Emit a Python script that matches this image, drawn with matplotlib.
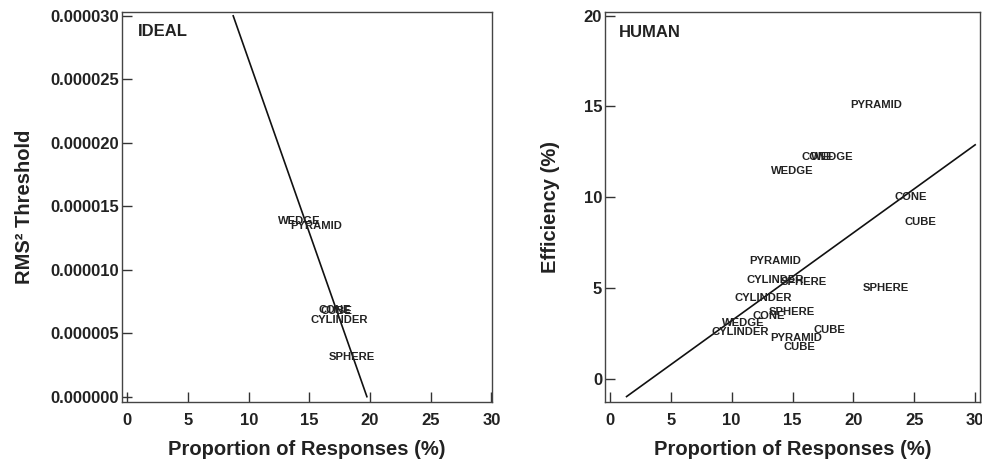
import matplotlib
matplotlib.use("Agg")
import matplotlib.pyplot as plt
from matplotlib.ticker import FormatStrFormatter

plt.rcParams['font.family'] = ['Liberation Sans', 'DejaVu Sans']
plt.rcParams['font.weight'] = 'bold'

# IDEAL panel : seuil RMS^2 contre proportion de reponses
ideal_labels = ['WEDGE', 'PYRAMID', 'CONE', 'CUBE', 'CYLINDER', 'SPHERE']
ideal_x = [14.15, 15.55, 17.1, 17.2, 17.5, 18.5]
ideal_y = [13.85e-6, 13.43e-6, 6.86e-6, 6.75e-6, 6.04e-6, 3.13e-6]
ideal_fit_x = [8.72, 19.74]
ideal_fit_y = [30e-6, 0.0]

# HUMAN panel : efficacite contre proportion de reponses
human_labels = ['PYRAMID', 'CONE', 'WEDGE', 'WEDGE', 'CONE', 'CUBE', 'PYRAMID',
                'CYLINDER', 'SPHERE', 'SPHERE', 'CYLINDER', 'SPHERE', 'CONE',
                'WEDGE', 'CYLINDER', 'CUBE', 'PYRAMID', 'CUBE']
human_x = [21.9, 17.1, 18.3, 15.0, 24.7, 25.5, 13.6, 13.56, 15.94, 22.7, 12.6,
           14.98, 13.04, 10.95, 10.68, 18.0, 15.26, 15.53]
human_y = [15.08, 12.23, 12.23, 11.44, 10.03, 8.65, 6.5, 5.44, 5.34, 5.01, 4.48,
           3.69, 3.49, 3.10, 2.59, 2.70, 2.26, 1.76]
human_fit_x = [1.37, 30.0]
human_fit_y = [-0.97, 12.89]

text_col = '#222222'
fig = plt.figure(figsize=(9.82, 4.63), dpi=100)
ax1 = fig.add_axes([0.1242, 0.1317, 0.3768, 0.8423])
ax2 = fig.add_axes([0.6161, 0.1317, 0.3819, 0.8423])


def style_axes(ax):
    for s in ax.spines.values():
        s.set_color('#444444')
        s.set_linewidth(1.0)
    ax.tick_params(direction='in', length=7, width=1, color='#333333',
                   labelsize=12, labelcolor=text_col)
    ax.tick_params(axis='x', pad=8)
    ax.tick_params(axis='y', pad=2)
    for lab in ax.get_xticklabels() + ax.get_yticklabels():
        lab.set_fontweight('bold')
    ax.set_xticks([0, 5, 10, 15, 20, 25, 30])
    ax.set_xlabel('Proportion of Responses (%)', fontsize=14.5, fontweight='bold',
                  color=text_col)
    ax.xaxis.set_label_coords(0.5, -0.097)


# panneau gauche
ax1.plot(ideal_fit_x, ideal_fit_y, color='#111111', lw=1.2)
for lab, x, y in zip(ideal_labels, ideal_x, ideal_y):
    ax1.text(x, y, lab, ha='center', va='center', fontsize=8.1,
             fontweight='bold', color=text_col)
ax1.set_xlim(-0.45, 30.05)
ax1.set_ylim(-0.42e-6, 30.3e-6)
ax1.set_yticks([0, 5e-6, 10e-6, 15e-6, 20e-6, 25e-6, 30e-6])
ax1.yaxis.set_major_formatter(FormatStrFormatter('%.6f'))
style_axes(ax1)
ax1.set_ylabel('RMS² Threshold', fontsize=14.5, fontweight='bold', color=text_col)
ax1.yaxis.set_label_coords(-0.238, 0.5)
ax1.text(0.043, 0.951, 'IDEAL', transform=ax1.transAxes, fontsize=12,
         fontweight='bold', color=text_col, va='center', ha='left')

# panneau droit
ax2.plot(human_fit_x, human_fit_y, color='#111111', lw=1.2)
for lab, x, y in zip(human_labels, human_x, human_y):
    ax2.text(x, y, lab, ha='center', va='center', fontsize=8.1,
             fontweight='bold', color=text_col)
ax2.set_xlim(-0.4, 30.4)
ax2.set_ylim(-1.27, 20.2)
ax2.set_yticks([0, 5, 10, 15, 20])
style_axes(ax2)
ax2.set_ylabel('Efficiency (%)', fontsize=14.5, fontweight='bold', color=text_col)
ax2.yaxis.set_label_coords(-0.12, 0.5)
ax2.text(0.037, 0.947, 'HUMAN', transform=ax2.transAxes, fontsize=12,
         fontweight='bold', color=text_col, va='center', ha='left')

fig.savefig('out.png', dpi=100)
